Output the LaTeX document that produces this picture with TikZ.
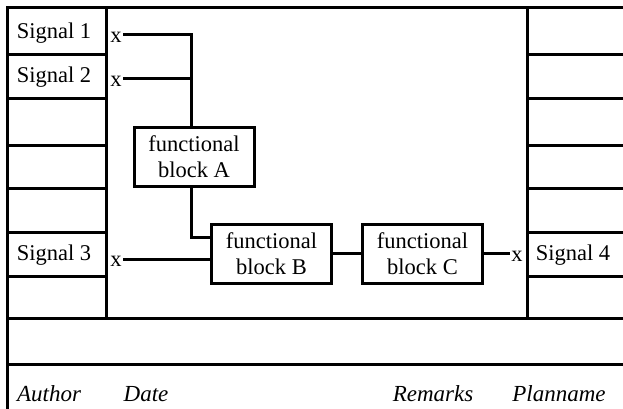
\documentclass[tikz,border=0pt]{standalone}
\usepackage{fontspec}
\setmainfont{Liberation Serif}
\usetikzlibrary{positioning}

\begin{document}
\begin{tikzpicture}
	[x=1pt,y=-1pt,line width=3pt,
		block/.style={draw,align=center,inner sep=0pt,minimum width=120pt,minimum height=59pt,
			font=\fontsize{22.5}{26}\selectfont},
		sig/.style={inner sep=0pt,font=\fontsize{22.5}{26}\selectfont},
		pin/.style={inner sep=0pt,font=\fontsize{22.5}{26}\selectfont},
		field/.style={inner sep=0pt,font=\fontsize{23}{26}\selectfont\itshape}]

	\useasboundingbox (0,0) rectangle (623,409);

	% plan frame
	\draw (7,409) -- (7,8) -- (623,8);
	\draw (106,8) -- (106,318);
	\draw (527,8) -- (527,318);
	\draw (7,318) -- (623,318);
	\draw (7,364) -- (623,364);
	\foreach \y in {55,99,145,188,232,276} {
		\draw (7,\y) -- (106,\y);
		\draw (527,\y) -- (623,\y);
	}

	% signals
	\node[sig] (S1) at (54,33)  {Signal 1};
	\node[sig] (S2) at (54,77)  {Signal 2};
	\node[sig] (S3) at (54,255) {Signal 3};
	\node[sig] (S4) at (573,255) {Signal 4};

	\node[pin] (x1) at (116,37)  {x};
	\node[pin] (x2) at (116,81)  {x};
	\node[pin] (x3) at (116,261) {x};
	\node[pin] (x4) at (517,256) {x};

	% blocks
	\node[block] (A) at (194,156.5) {functional\\block A};
	\node[block] (B) at (271.5,253.5) {functional\\block B};
	\node[block, right=28pt of B] (C) {functional\\block C};

	\coordinate (bus) at ([xshift=-3]A.north);
	\draw ([yshift=2]x1.east) -| (bus);
	\draw ([yshift=2]x2.east) -- ([yshift=2]x2.east -| bus);
	\draw ([xshift=-3]A.south) |- ([yshift=16]B.west);
	\draw ([yshift=2]x3.east) -- ([yshift=2]x3.east -| B.west);
	\draw (B) -- (C);
	\draw (C.east) -- (C.east -| x4.west);

	% footer fields
	\node[field] (au) at (49,394)  {Author};
	\node[field] (da) at (146,394) {Date};
	\node[field] (re) at (433,394) {Remarks};
	\node[field] (pl) at (559,394) {Planname};

\end{tikzpicture}
\end{document}
